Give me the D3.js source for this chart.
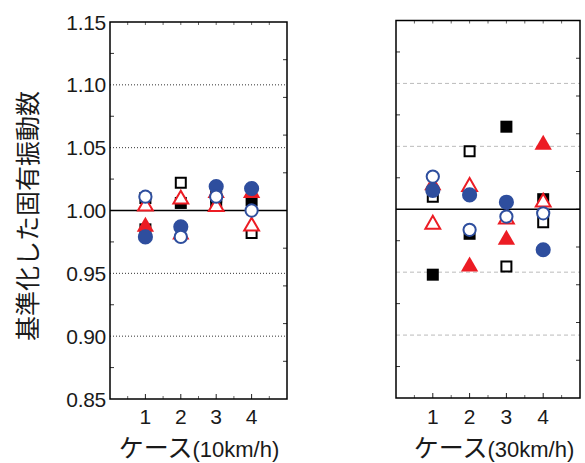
<!DOCTYPE html>
<html>
<head>
<meta charset="utf-8">
<script src="https://cdn.jsdelivr.net/npm/d3@7"></script>
<style>
  body { margin: 0; background: #fff; }
  svg { display: block; }
  text { font-family: "Liberation Sans", Arial, sans-serif; fill: #1a1a1a; }
  .jp { font-family: "Noto Sans CJK JP", sans-serif; }
</style>
</head>
<body>
<div id="chart"></div>
<script>
// cases on the x axis
var cases = [1, 2, 3, 4];
var yTicks = [0.85, 0.90, 0.95, 1.00, 1.05, 1.10, 1.15];
var gridValues = [0.90, 0.95, 1.05, 1.10];

// 10km/h
var filledSquare10 = [0.985, 1.006, 1.007, 1.008];
var openSquare10 = [1.010, 1.022, 1.011, 0.982];
var filledTriangle10 = [0.987, 0.981, 1.014, 1.014];
var openTriangle10 = [1.0035, 1.009, 1.003, 0.9875];
var filledCircle10 = [0.979, 0.987, 1.019, 1.0175];
var openCircle10 = [1.011, 0.979, 1.011, 1.000];

// 30km/h
var filledSquare30 = [0.948, 0.9805, 1.0656, 1.008];
var openSquare30 = [1.010, 1.046, 0.9545, 0.9897];
var filledTriangle30 = [1.019, 0.9545, 0.9757, 1.0513];
var openTriangle30 = [0.988, 1.018, 0.992, 1.0056];
var filledCircle30 = [1.015, 1.0114, 1.0056, 0.9678];
var openCircle30 = [1.026, 0.9837, 0.9942, 0.9968];

var red = "#ec1c24";
var blue = "#2e4e9e";

var width = 585, height = 463;

var svg = d3.select("#chart").append("svg")
    .attr("width", width)
    .attr("height", height);

// draw order: squares, triangles, circles (filled before open)
function seriesFor(fs, os, ft, ot, fc, oc) {
    return [
        {values: fs, type: d3.symbolSquare, size: 144, fill: "#000", stroke: "none"},
        {values: os, type: d3.symbolSquare, size: 100, fill: "#fff", stroke: "#000"},
        {values: ft, type: d3.symbolTriangle, size: 130, fill: red, stroke: "none"},
        {values: ot, type: d3.symbolTriangle, size: 95, fill: "#fff", stroke: red},
        {values: fc, type: d3.symbolCircle, size: 180, fill: blue, stroke: "none"},
        {values: oc, type: d3.symbolCircle, size: 118, fill: "#fff", stroke: blue}
    ];
}

function drawPanel(p) {
    var x = d3.scaleLinear().domain([0, 5]).range([p.left, p.right]);
    var y = d3.scaleLinear().domain([0.85, 1.15]).range([p.bottom, p.top]);
    var g = svg.append("g");

    // grid lines
    g.selectAll(".grid")
        .data(gridValues)
        .enter().append("line")
        .attr("x1", p.left).attr("x2", p.right)
        .attr("y1", d => y(d)).attr("y2", d => y(d))
        .style("stroke", p.gridColor)
        .style("stroke-width", 1)
        .style("stroke-dasharray", p.gridDash);

    // inner minor ticks on left side (every 0.025)
    var leftMinor = d3.range(0.875, 1.15, 0.05);
    g.selectAll(".lt")
        .data(leftMinor)
        .enter().append("line")
        .attr("x1", p.left).attr("x2", p.left + 4)
        .attr("y1", d => y(d)).attr("y2", d => y(d))
        .style("stroke", "#333").style("stroke-width", 1);

    // ticks on right side (secondary, every 0.03)
    var rightTicks = d3.range(-4, 5).map(k => 1 + k * 0.03);
    g.selectAll(".rt")
        .data(rightTicks)
        .enter().append("line")
        .attr("x1", p.right - 4).attr("x2", p.right)
        .attr("y1", d => y(d)).attr("y2", d => y(d))
        .style("stroke", "#333").style("stroke-width", 1);

    // bottom/top ticks
    var minorX = [0.5, 1.5, 2.5, 3.5, 4.5];
    g.selectAll(".bt")
        .data(cases)
        .enter().append("line")
        .attr("x1", d => x(d)).attr("x2", d => x(d))
        .attr("y1", p.bottom).attr("y2", p.bottom - 5)
        .style("stroke", "#222").style("stroke-width", 1);
    g.selectAll(".bm")
        .data(minorX)
        .enter().append("line")
        .attr("x1", d => x(d)).attr("x2", d => x(d))
        .attr("y1", p.bottom).attr("y2", p.bottom - 3)
        .style("stroke", "#666").style("stroke-width", 1);
    g.selectAll(".tt")
        .data(cases.concat(minorX))
        .enter().append("line")
        .attr("x1", d => x(d)).attr("x2", d => x(d))
        .attr("y1", p.top).attr("y2", p.top + 3)
        .style("stroke", "#666").style("stroke-width", 1);

    // reference line at 1.00
    g.append("line")
        .attr("x1", p.left).attr("x2", p.right)
        .attr("y1", y(1)).attr("y2", y(1))
        .style("stroke", "#000").style("stroke-width", 1.6);

    // frame
    g.append("rect")
        .attr("x", p.left).attr("y", p.top)
        .attr("width", p.right - p.left).attr("height", p.bottom - p.top)
        .style("fill", "none").style("stroke", "#000").style("stroke-width", 1.5);

    // markers
    p.series.forEach(function (s) {
        g.selectAll(null)
            .data(s.values)
            .enter().append("path")
            .attr("d", d3.symbol().type(s.type).size(s.size))
            .attr("transform", (d, i) => "translate(" + x(cases[i]) + "," + y(d) + ")")
            .style("fill", s.fill)
            .style("stroke", s.stroke)
            .style("stroke-width", 2);
    });

    // y tick labels
    if (p.yLabels) {
        g.selectAll(".yl")
            .data(yTicks)
            .enter().append("text")
            .attr("x", p.left - 4)
            .attr("y", d => y(d) + 7.5)
            .attr("text-anchor", "end")
            .style("font-size", "21px")
            .style("letter-spacing", "-0.3px")
            .text(d => d.toFixed(2));
    }

    // x tick labels
    g.selectAll(".xl")
        .data(cases)
        .enter().append("text")
        .attr("x", d => x(d))
        .attr("y", 424)
        .attr("text-anchor", "middle")
        .style("font-size", "21px")
        .text(d => d);

    // x title
    var t = g.append("text")
        .attr("x", p.titleX)
        .attr("y", 457)
        .attr("text-anchor", "middle");
    t.append("tspan").attr("class", "jp").style("font-size", "25px").text("ケース");
    t.append("tspan").style("font-size", "22px").text(p.speed);
}

drawPanel({
    left: 110, right: 287, top: 22, bottom: 399,
    gridColor: "#333", gridDash: "1,2",
    yLabels: true, titleX: 199, speed: "(10km/h)",
    series: seriesFor(filledSquare10, openSquare10, filledTriangle10, openTriangle10, filledCircle10, openCircle10)
});

drawPanel({
    left: 396, right: 580, top: 20.5, bottom: 398,
    gridColor: "#bbb", gridDash: "4,3",
    yLabels: false, titleX: 494, speed: "(30km/h)",
    series: seriesFor(filledSquare30, openSquare30, filledTriangle30, openTriangle30, filledCircle30, openCircle30)
});

// y axis title
svg.append("text")
    .attr("class", "jp")
    .attr("transform", "translate(37,216) rotate(-90)")
    .attr("text-anchor", "middle")
    .style("font-size", "25px")
    .text("基準化した固有振動数");
</script>
</body>
</html>
